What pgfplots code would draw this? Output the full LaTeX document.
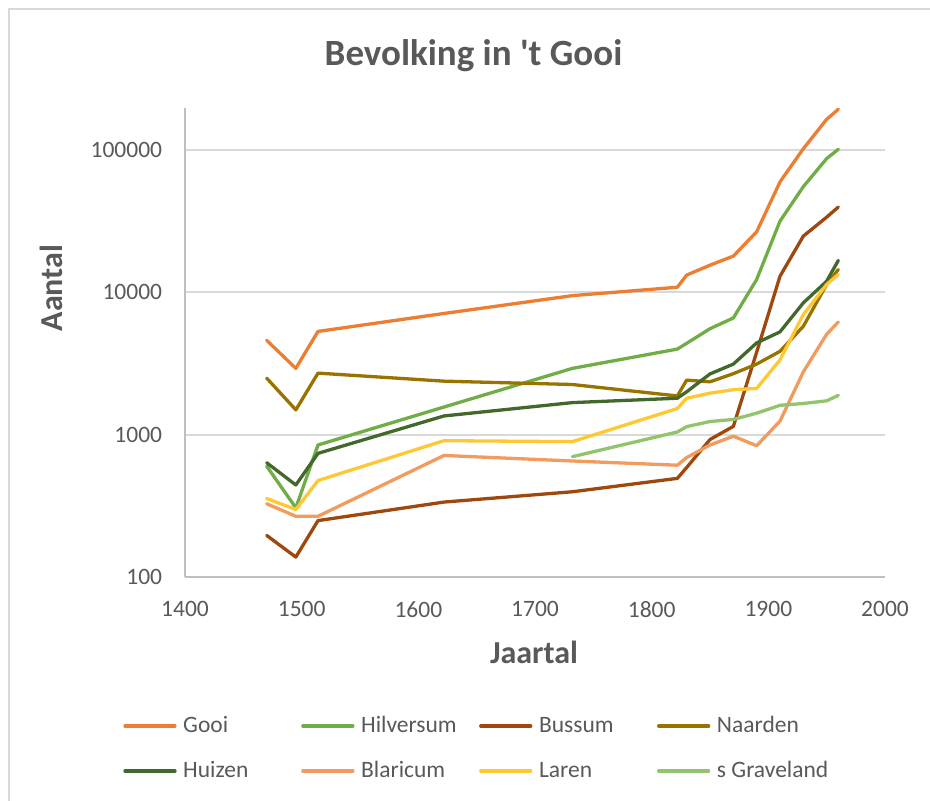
\documentclass[border=0pt]{standalone}
\usepackage{pgfplots}
\pgfplotsset{compat=1.18}
\usepackage{fontspec}
\setmainfont{Carlito}
\definecolor{cGooi}{HTML}{ED7D31}
\definecolor{cHilv}{HTML}{70AD47}
\definecolor{cBuss}{HTML}{9E480E}
\definecolor{cNaar}{HTML}{997300}
\definecolor{cHuiz}{HTML}{43682B}
\definecolor{cBlar}{HTML}{F29B5E}
\definecolor{cLare}{HTML}{FFC833}
\definecolor{cGrav}{HTML}{92C46E}
\definecolor{txtgray}{HTML}{595959}
\definecolor{gridgray}{HTML}{D9D9D9}
\definecolor{axisgray}{HTML}{BFBFBF}
\begin{document}
\begin{tikzpicture}
\useasboundingbox (0,0) rectangle (465pt,400pt);
\clip (0,0) rectangle (465pt,400pt);
\draw[gridgray, line width=0.9pt] (4.5pt,-20pt) -- (4.5pt,395.5pt) -- (490pt,395.5pt);
\node[text=txtgray, font=\fontsize{18.5}{22}\selectfont\bfseries] at (236.75pt,372.3pt) {Bevolking in \textquotesingle t Gooi};
\node[text=txtgray, font=\fontsize{16}{19}\selectfont\bfseries, rotate=90] at (25.5pt,256pt) {Aantal};
\node[text=txtgray, font=\fontsize{16}{19}\selectfont\bfseries] at (267pt,74pt) {Jaartal};
\begin{axis}[
  at={(92.5pt,111.5pt)}, anchor=south west,
  scale only axis, width=350pt, height=234.5pt,
  ymode=log, xmin=1400, xmax=2000, ymin=100, ymax=197000,
  xtick={1400,1500,1600,1700,1800,1900,2000},
  xticklabels={1400,1500,1600,1700,1800,1900,2000},
  ytick={100,1000,10000,100000},
  yticklabels={100,1000,10000,100000},
  yminorticks=false, xminorticks=false,
  axis x line=bottom, axis y line=left,
  axis line style={draw=axisgray, line width=0.9pt, -},
  ymajorgrids, grid style={draw=gridgray, line width=0.9pt},
  major tick length=0pt, tick style={draw=none},
  tick label style={font=\fontsize{11.75}{14}\selectfont, text=txtgray},
  yticklabel style={anchor=east, inner sep=0pt, xshift=-11.25pt},
  xticklabel style={anchor=north, inner sep=0pt, yshift=-12pt},
  clip=false,
  every axis plot/.append style={line width=1.65pt, line join=round, line cap=round},
  legend columns=4,
  legend image code/.code={\draw[#1, line width=1.65pt, line cap=round] (0pt,0pt) -- (25pt,0pt);},
  legend style={draw=none, fill=none, inner sep=0pt, outer sep=0pt,
    at={(-0.0881,-0.293)}, anchor=north west,
    font=\fontsize{11.75}{14}\selectfont, text=txtgray,
    column sep=0pt, row sep=11pt,
    nodes={inner sep=0pt, text height=9pt, text depth=2.5pt},
    /tikz/every odd column/.append style={column sep=3.3pt}},
]
\addplot[cGooi] coordinates {(1470,4600) (1495,2920) (1514,5310) (1622,7100) (1732,9470) (1822,10850) (1830,13200) (1850,15500) (1870,17950) (1890,26600) (1910,59600) (1930,102000) (1950,164000) (1960,193000)};
\addlegendentry{\makebox[59pt][l]{Gooi}}
\addplot[cHilv] coordinates {(1470,601) (1495,306) (1514,846) (1622,1563) (1732,2920) (1822,3990) (1830,4380) (1850,5550) (1870,6600) (1890,12300) (1910,31600) (1930,55200) (1950,86900) (1960,101000)};
\addlegendentry{\makebox[59pt][l]{Hilversum}}
\addplot[cBuss] coordinates {(1470,196) (1495,138) (1514,249) (1622,336) (1732,397) (1822,493) (1830,588) (1850,924) (1870,1143) (1890,3800) (1910,12970) (1930,24800) (1950,33700) (1960,39700)};
\addlegendentry{\makebox[59pt][l]{Bussum}}
\addplot[cNaar] coordinates {(1470,2494) (1495,1493) (1514,2704) (1622,2375) (1732,2250) (1822,1870) (1830,2415) (1850,2350) (1870,2680) (1890,3130) (1910,3850) (1930,5770) (1950,11350) (1960,14450)};
\addlegendentry{\makebox[59pt][l]{Naarden}}
\addplot[cHuiz] coordinates {(1470,635) (1495,443) (1514,739) (1622,1353) (1732,1679) (1822,1802) (1830,2000) (1850,2670) (1870,3130) (1890,4410) (1910,5270) (1930,8430) (1950,11970) (1960,16750)};
\addlegendentry{\makebox[59pt][l]{Huizen}}
\addplot[cBlar] coordinates {(1470,327) (1495,267) (1514,267) (1622,714) (1732,653) (1822,610) (1830,690) (1850,846) (1870,975) (1890,836) (1910,1245) (1930,2760) (1950,5070) (1960,6190)};
\addlegendentry{\makebox[59pt][l]{Blaricum}}
\addplot[cLare] coordinates {(1470,356) (1495,298) (1514,476) (1622,907) (1732,893) (1822,1525) (1830,1802) (1850,1957) (1870,2067) (1890,2112) (1910,3350) (1930,6980) (1950,11350) (1960,13340)};
\addlegendentry{\makebox[59pt][l]{Laren}}
\addplot[cGrav] coordinates {(1732,700) (1822,1044) (1830,1138) (1850,1237) (1870,1278) (1890,1415) (1910,1607) (1930,1655) (1950,1728) (1960,1889)};
\addlegendentry{\makebox[59pt][l]{s Graveland}}
\end{axis}
\end{tikzpicture}
\end{document}
